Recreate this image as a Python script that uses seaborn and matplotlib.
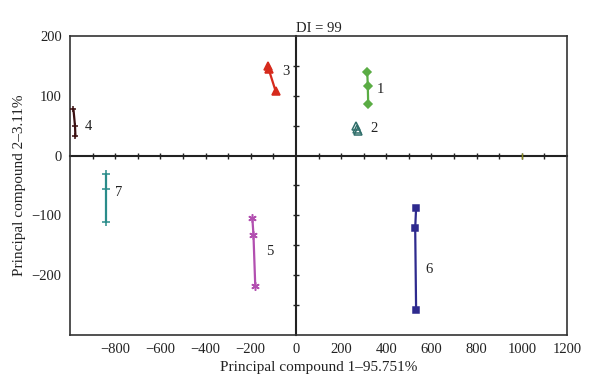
import numpy as np
import pandas as pd
import seaborn as sns
import matplotlib
matplotlib.use("Agg")
import matplotlib.pyplot as plt

sns.set_theme(style="white")
plt.rcParams['font.family'] = ['Liberation Serif', 'DejaVu Serif']

# ---- data ----
group_names = ["1", "2", "3", "4", "5", "6", "7"]
g1_x = [316, 318, 320];     g1_y = [139, 117, 86]
g2_x = [264, 270, 276];     g2_y = [49, 45, 41]
g3_x = [-125, -121, -90];   g3_y = [150, 145, 108]
g4_x = [-985, -978, -976];  g4_y = [78, 50, 32]
g5_x = [-193, -188, -180];  g5_y = [-104, -132, -218]
g6_x = [532, 528, 532];     g6_y = [-88, -121, -258]
g7_x = [-840, -840, -840];  g7_y = [-30, -56, -111]
extra_x = [1000]; extra_y = [0]

xs = [g1_x, g2_x, g3_x, g4_x, g5_x, g6_x, g7_x]
ys = [g1_y, g2_y, g3_y, g4_y, g5_y, g6_y, g7_y]

colors = ["#5aac44", "#2f6e6a", "#d62a1c", "#3a0f10", "#b24fb0", "#2e2a8e", "#2a8c8a"]
markers = ["D", "^", "^", "+", (6, 2, 0), "s", "+"]
msizes = [4.5, 6, 6, 4, 6, 4.5, 6]
mfaces = ["#5aac44", "none", "#d62a1c", "#3a0f10", "#b24fb0", "#2e2a8e", "#2a8c8a"]
label_pos = [(374, 111), (347, 46), (-44, 140), (-919, 49), (-118, -161), (588, -191), (-784, -62)]

x_ticks = [-800, -600, -400, -200, 0, 200, 400, 600, 800, 1000, 1200]
y_ticks = [-200, -100, 0, 100, 200]

rows = []
for name, gx, gy in zip(group_names, xs, ys):
    for i, (a, b) in enumerate(zip(gx, gy)):
        rows.append({"group": name, "x": a, "y": b, "order": i})
df = pd.DataFrame(rows)

fig = plt.figure(figsize=(6.0, 3.91), dpi=100)
pos = [0.1167, 0.1432, 0.8283, 0.7648]
ax = fig.add_axes(pos)

for name, c, m, ms, mf in zip(group_names, colors, markers, msizes, mfaces):
    sub = df[df["group"] == name]
    lw = 0.0 if name == "2" else 1.6
    sns.lineplot(data=sub, x="x", y="y", sort=False, color=c, marker=m,
                 markersize=ms, markeredgecolor=c, markerfacecolor=mf,
                 markeredgewidth=1.1, linewidth=lw, ax=ax, estimator=None, zorder=5)

ax.plot(extra_x, extra_y, marker="|", color="#8a8a20", markersize=4, linestyle="none", zorder=6)

for name, (lx, ly) in zip(group_names, label_pos):
    ax.text(lx, ly, name, fontsize=10.5, color="#222222", ha="center", va="center", zorder=7)

ax.set_xlim(-1000, 1200)
ax.set_ylim(-300, 200)
ax.set_xticks(x_ticks)
ax.set_yticks(y_ticks)
ax.set_xticklabels([f"{v}".replace("-", "\u2212") for v in x_ticks])
ax.set_yticklabels([f"{v}".replace("-", "\u2212") for v in y_ticks])
ax.tick_params(axis="both", length=0, labelsize=10.5, colors="#222222", pad=6)
for s in ax.spines.values():
    s.set_visible(True)
    s.set_color("#333333")
    s.set_linewidth(1.2)
ax.set_xlabel("Principal compound 1\u201395.751%", fontsize=11, color="#222222", labelpad=3)
ax.set_ylabel("Principal compound 2\u20133.11%", fontsize=11, color="#222222", labelpad=4)
ax.set_title("DI = 99", fontsize=10.5, color="#222222", pad=3)
ax.grid(False)

# central axes through the origin with their own tick marks
ax2 = fig.add_axes(pos, facecolor="none")
ax2.set_xlim(-1000, 1200)
ax2.set_ylim(-300, 200)
ax2.spines["left"].set_position(("data", 0))
ax2.spines["bottom"].set_position(("data", 0))
ax2.spines["top"].set_visible(False)
ax2.spines["right"].set_visible(False)
for k in ["left", "bottom"]:
    ax2.spines[k].set_color("#222222")
    ax2.spines[k].set_linewidth(1.5)
ax2.set_xticks([v for v in range(-900, 1200, 100) if v != 0])
ax2.set_yticks([v for v in range(-250, 200, 50) if v != 0])
ax2.tick_params(axis="both", direction="inout", length=5, width=1, colors="#222222",
                bottom=True, left=True, labelbottom=False, labelleft=False)
ax2.grid(False)
ax2.set_zorder(ax.get_zorder() - 1)
ax.patch.set_visible(False)

fig.savefig("out.png", dpi=100)
